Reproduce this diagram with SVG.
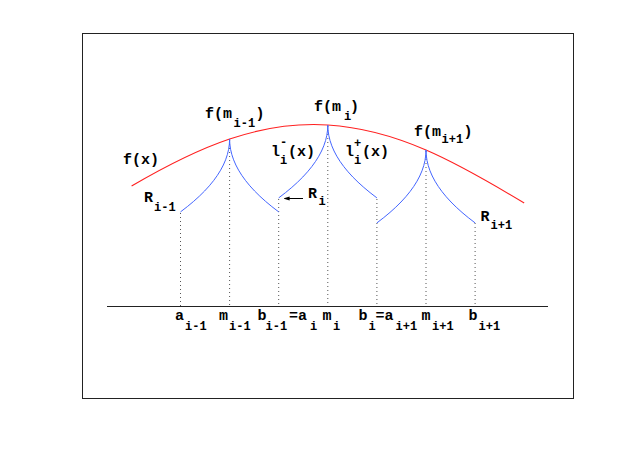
<svg xmlns="http://www.w3.org/2000/svg" xmlns:xlink="http://www.w3.org/1999/xlink" width="634" height="449" viewBox="0 0 634 449">
<style>
text{font-family:"Liberation Mono","Courier New",monospace;font-weight:bold;fill:#000;font-size:15px}
.s{font-size:12px}
.dot{stroke:#555;stroke-width:1;stroke-dasharray:1 3;fill:none}
.blue{stroke:#4466ff;stroke-width:1;fill:none;stroke-linejoin:round}
.red{stroke:#ff2020;stroke-width:1.1;fill:none}
</style>
<defs>
<path id="cusp" d="M-49.1,72.9 L-42.25,67.6 L-36,62.4 L-30.25,57.2 L-25,52 L-20.25,46.8 L-16,41.6 L-12.25,36.4 L-9,31.2 L-6.25,26 L-4,20.8 L-2.25,15.6 L-1,10.4 L-0.25,5.2 L0,0 L0.25,5.2 L1,10.4 L2.25,15.6 L4,20.8 L6.25,26 L9,31.2 L12.25,36.4 L16,41.6 L20.25,46.8 L25,52 L30.25,57.2 L36,62.4 L42.25,67.6 L49.1,72.9"/>
<marker id="ah" viewBox="0 0 10 10" refX="1" refY="5" markerWidth="6" markerHeight="6" orient="auto-start-reverse" markerUnits="userSpaceOnUse">
<path d="M0,1.5 L10,5 L0,8.5 Z" fill="#000"/>
</marker>
</defs>
<rect x="82.5" y="33.5" width="491" height="365" fill="#fff" stroke="#222" stroke-width="1"/>
<g id="connectors">
<line x1="107" y1="306.5" x2="548" y2="306.5" stroke="#222" stroke-width="1"/>
<line class="dot" x1="180.5" y1="213" x2="180.5" y2="306"/>
<line class="dot" x1="229.6" y1="140" x2="229.6" y2="306"/>
<line class="dot" x1="278.7" y1="199" x2="278.7" y2="306"/>
<line class="dot" x1="327.8" y1="126" x2="327.8" y2="306"/>
<line class="dot" x1="376.9" y1="199" x2="376.9" y2="306"/>
<line class="dot" x1="426" y1="151" x2="426" y2="306"/>
<line class="dot" x1="475.1" y1="223" x2="475.1" y2="306"/>
<line x1="303" y1="198.5" x2="289" y2="198.5" stroke="#000" stroke-width="1" marker-end="url(#ah)"/>
</g>
<g id="fx">
<path class="red" d="M131.6,186 C164.3,166.9 196.9,150.0 229.6,139 C262.3,128.0 295.1,123.0 327.8,125 C360.5,127.0 393.3,135.9 426,150 C458.7,164.1 491.5,183.3 524.2,203"/>
<text x="123" y="164">f(x)</text>
</g>
<g id="R_im1">
<use xlink:href="#cusp" href="#cusp" class="blue" x="229.6" y="139"/>
<text x="205" y="118">f(m</text><text class="s" x="233.5" y="126.5">i-1</text><text x="255.5" y="118">)</text>
<text x="144" y="202">R</text><text class="s" x="154" y="211">i-1</text>
</g>
<g id="R_i">
<use xlink:href="#cusp" href="#cusp" class="blue" x="327.8" y="125"/>
<text x="314" y="111">f(m</text><text class="s" x="344" y="119.5">i</text><text x="350" y="111">)</text>
<text x="271" y="156">l</text><text class="s" x="280" y="146">-</text><text class="s" x="280" y="164">i</text><text x="288" y="156">(x)</text>
<text x="345" y="156">l</text><text class="s" x="354" y="147">+</text><text class="s" x="354" y="164">i</text><text x="362" y="156">(x)</text>
<text x="308" y="197.5">R</text><text class="s" x="318.5" y="205">i</text>
</g>
<g id="R_ip1">
<use xlink:href="#cusp" href="#cusp" class="blue" x="426" y="150"/>
<text x="414" y="136">f(m</text><text class="s" x="441.5" y="143">i+1</text><text x="463.5" y="136">)</text>
<text x="480.5" y="220.5">R</text><text class="s" x="490.5" y="228.5">i+1</text>
</g>
<g id="axis-labels">
<text x="175" y="319.5">a</text><text class="s" x="185" y="329.5">i-1</text>
<text x="219" y="319.5">m</text><text class="s" x="229" y="329.5">i-1</text>
<text x="257.5" y="319.5">b</text><text class="s" x="265.5" y="329.5">i-1</text><text x="289" y="319.5">=a</text><text class="s" x="310" y="329.5">i</text>
<text x="322.5" y="319.5">m</text><text class="s" x="333" y="329.5">i</text>
<text x="358.5" y="319.5">b</text><text class="s" x="368.5" y="329.5">i</text><text x="375.5" y="319.5">=a</text><text class="s" x="395.5" y="329.5">i+1</text>
<text x="421.5" y="319.5">m</text><text class="s" x="432" y="329.5">i+1</text>
<text x="468.5" y="319.5">b</text><text class="s" x="478.5" y="329.5">i+1</text>
</g>
</svg>
